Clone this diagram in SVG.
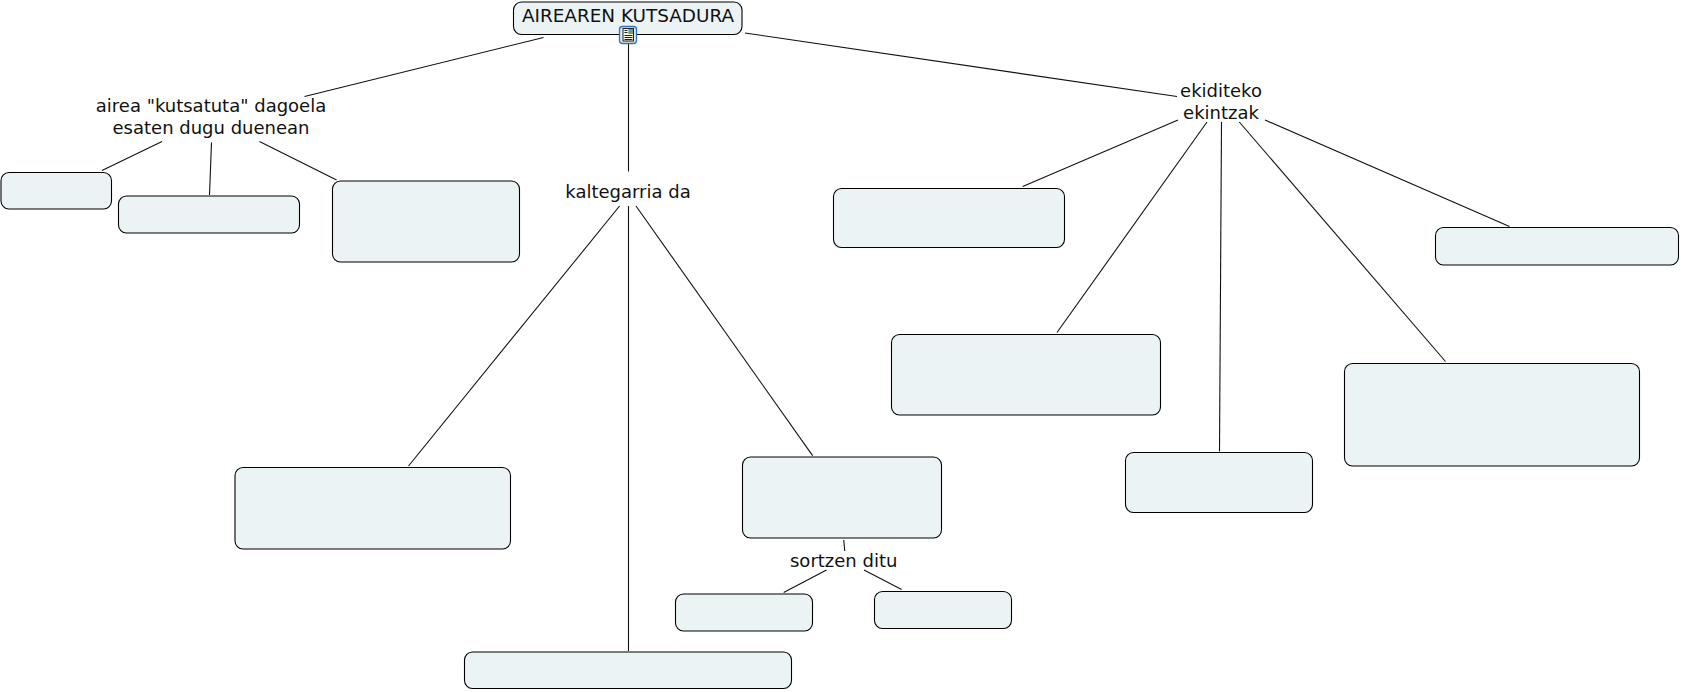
<svg xmlns="http://www.w3.org/2000/svg" width="1681" height="692" viewBox="0 0 1681 692">
<style>
.n{fill:#ecf3f5;stroke:#000;stroke-width:1.1}
.c line{stroke:#111;stroke-width:1.1}
text{font-family:"DejaVu Sans",Verdana,sans-serif;font-size:18px;fill:#111;text-anchor:middle}
</style>
<rect width="1681" height="692" fill="#fff"/>
<g id="connectors" class="c">
<line x1="543.5" y1="37.5" x2="304.5" y2="96.5"/>
<line x1="745" y1="33" x2="1177" y2="96.5"/>
<line x1="628.5" y1="43" x2="628.5" y2="171.5"/>
<line x1="162" y1="141.5" x2="102" y2="170.5"/>
<line x1="211.5" y1="142.5" x2="209.5" y2="195"/>
<line x1="259.5" y1="141.5" x2="336.6" y2="180"/>
<line x1="619.6" y1="206" x2="408.5" y2="466"/>
<line x1="628.5" y1="206" x2="628.5" y2="651"/>
<line x1="636" y1="206" x2="812.6" y2="455.6"/>
<line x1="843.7" y1="540" x2="844.8" y2="551"/>
<line x1="826.5" y1="570" x2="783.7" y2="592.5"/>
<line x1="864" y1="570" x2="901.6" y2="589.5"/>
<line x1="1178" y1="120" x2="1022.7" y2="186.5"/>
<line x1="1207" y1="122" x2="1057" y2="332.5"/>
<line x1="1221.5" y1="122" x2="1219.5" y2="451.5"/>
<line x1="1239.3" y1="122" x2="1445.5" y2="361.5"/>
<line x1="1265" y1="120" x2="1509.5" y2="226.5"/>
</g>
<g id="root"><rect class="n" x="513.5" y="2" width="228.5" height="32.5" rx="8"/><text x="628" y="22" style="font-size:18.4px">AIREAREN KUTSADURA</text></g>
<g id="icon">
<rect x="619.5" y="26.5" width="17" height="17" rx="3" fill="#d9e8f6" stroke="#3a70b8" stroke-width="1.3"/>
<rect x="623" y="28.5" width="10.5" height="12.5" fill="#fbf6dc" stroke="#222" stroke-width="1"/>
<rect x="628.5" y="29" width="4.5" height="5" fill="#5f95b8"/>
<rect x="628.5" y="32" width="4.5" height="2" fill="#6fa35f"/>
<path d="M624.5 30.5h3M624.5 32.5h3M624.5 35.5h8M624.5 37.5h8M624.5 39.5h8" stroke="#222" stroke-width="1" fill="none"/>
</g>
<g id="label-airea"><text x="211" y="112">airea "kutsatuta" dagoela</text><text x="211" y="134">esaten dugu duenean</text></g>
<g id="label-kaltegarria"><text x="628" y="198">kaltegarria da</text></g>
<g id="label-sortzen"><text x="843.7" y="567">sortzen ditu</text></g>
<g id="label-ekiditeko"><text x="1221" y="97">ekiditeko</text><text x="1221" y="119">ekintzak</text></g>
<g id="box1"><rect class="n" x="1" y="172.5" width="110.5" height="36.5" rx="8"/></g>
<g id="box2"><rect class="n" x="118.5" y="196" width="181" height="37" rx="8"/></g>
<g id="box3"><rect class="n" x="332.5" y="181" width="187" height="81" rx="8"/></g>
<g id="boxA"><rect class="n" x="235" y="467.5" width="275.5" height="81.5" rx="8"/></g>
<g id="boxB"><rect class="n" x="742.5" y="457" width="199" height="81" rx="8"/></g>
<g id="boxC"><rect class="n" x="675.5" y="594" width="137" height="37" rx="8"/></g>
<g id="boxD"><rect class="n" x="874.5" y="591.5" width="137" height="37" rx="8"/></g>
<g id="boxE"><rect class="n" x="464.5" y="652" width="327" height="36.5" rx="8"/></g>
<g id="boxF"><rect class="n" x="833.5" y="188.5" width="231" height="59" rx="8"/></g>
<g id="boxG"><rect class="n" x="891.5" y="334.5" width="269" height="80.5" rx="8"/></g>
<g id="boxH"><rect class="n" x="1125.5" y="452.5" width="187" height="60" rx="8"/></g>
<g id="boxI"><rect class="n" x="1344.5" y="363.5" width="295" height="102.5" rx="8"/></g>
<g id="boxJ"><rect class="n" x="1435.5" y="227.5" width="243" height="37.5" rx="8"/></g>
</svg>
